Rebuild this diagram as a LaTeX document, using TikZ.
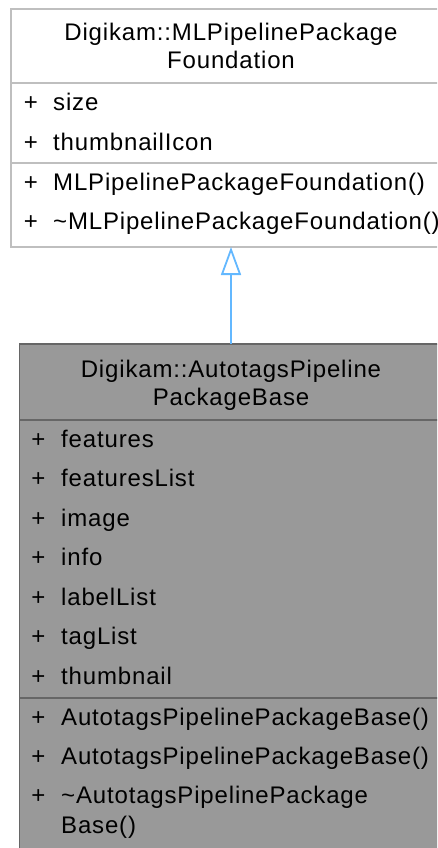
\documentclass[tikz,border=0pt]{standalone}
\usepackage{fontspec}
\setmainfont{Liberation Sans}[LetterSpace=3.5]
\usetikzlibrary{arrows.meta}
\definecolor{lgray}{HTML}{BFBFBF}
\definecolor{dgray}{HTML}{666666}
\definecolor{fgray}{HTML}{999999}
\definecolor{edgeblue}{HTML}{63B8FF}
\begin{document}
\begin{tikzpicture}[x=1pt,y=-1pt,
  basebox/.style={draw=lgray, fill=white, line width=1.8pt, rectangle, inner sep=0pt, outer sep=0pt},
  derivedbox/.style={draw=dgray, fill=fgray, line width=1.8pt, rectangle, inner sep=0pt, outer sep=0pt},
  txt/.style={anchor=base west, inner sep=0pt, font=\fontsize{24}{28}\selectfont, text=black},
  plus/.style={anchor=base, inner sep=0pt, font=\fontsize{24}{28}\selectfont, text=black},
  ttl/.style={anchor=base, inner sep=0pt, font=\fontsize{24}{28}\selectfont, text=black},
  inh/.style={draw=edgeblue, line width=1.8pt, -{Triangle[length=28pt, width=20pt, fill=white]}}
]
\useasboundingbox (0,0) rectangle (437,848);
\clip (0,0) rectangle (437,848);
\fill[white] (0,0) rectangle (437,848);

% base class box
\node[basebox, minimum width=440pt, minimum height=238pt] (base) at (231,128) {};
\coordinate (bd1) at (0,83);
\coordinate (bd2) at (0,163);
\draw[lgray, line width=1.8pt] (base.west |- bd1) -- (base.east |- bd1);
\draw[lgray, line width=1.8pt] (base.west |- bd2) -- (base.east |- bd2);

\node[ttl] (bt1) at (231,40.5) {Digikam::MLPipelinePackage};
\node[ttl] (bt2) at (231,69) {Foundation};
\node[plus] (bp1) at (31,110.5) {+};
\node[txt] (ba1) at (53,110.5) {size};
\node[plus] (bp2) at (31,150) {+};
\node[txt] (ba2) at (53,150) {thumbnailIcon};
\node[plus] (bp3) at (31,190) {+};
\node[txt] (bm1) at (53,190) {MLPipelinePackageFoundation()};
\node[plus] (bp4) at (31,229.5) {+};
\node[txt] (bm2) at (53,229.5) {\char`\~MLPipelinePackageFoundation()};

% derived class box
\node[derivedbox, minimum width=423pt, minimum height=507pt] (derived) at (231,597.5) {};
\coordinate (dd1) at (0,420);
\coordinate (dd2) at (0,698);
\draw[dgray, line width=1.8pt] (derived.west |- dd1) -- (derived.east |- dd1);
\draw[dgray, line width=1.8pt] (derived.west |- dd2) -- (derived.east |- dd2);

\node[ttl] (dt1) at (231,377) {Digikam::AutotagsPipeline};
\node[ttl] (dt2) at (231,405) {PackageBase};
\node[plus] (dp1) at (38.5,447) {+};
\node[txt] (da1) at (61,447) {features};
\node[plus] (dp2) at (38.5,486.5) {+};
\node[txt] (da2) at (61,486.5) {featuresList};
\node[plus] (dp3) at (38.5,526) {+};
\node[txt] (da3) at (61,526) {image};
\node[plus] (dp4) at (38.5,565.5) {+};
\node[txt] (da4) at (61,565.5) {info};
\node[plus] (dp5) at (38.5,605) {+};
\node[txt] (da5) at (61,605) {labelList};
\node[plus] (dp6) at (38.5,644.5) {+};
\node[txt] (da6) at (61,644.5) {tagList};
\node[plus] (dp7) at (38.5,684) {+};
\node[txt] (da7) at (61,684) {thumbnail};
\node[plus] (dp8) at (38.5,725) {+};
\node[txt] (dm1) at (61,725) {AutotagsPipelinePackageBase()};
\node[plus] (dp9) at (38.5,764) {+};
\node[txt] (dm2) at (61,764) {AutotagsPipelinePackageBase()};
\node[plus] (dp10) at (38.5,803) {+};
\node[txt] (dm3) at (61,803) {\char`\~AutotagsPipelinePackage};
\node[txt] (dm3b) at (61,833) {Base()};

% inheritance
\draw[inh] (derived.north) -- (base.south);
\end{tikzpicture}
\end{document}
